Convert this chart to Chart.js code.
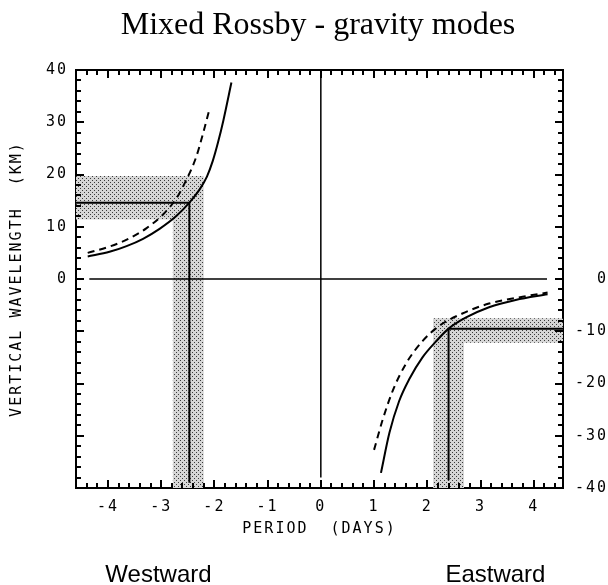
<!DOCTYPE html>
<html lang="en">
<head>
  <meta charset="UTF-8">
  <script src="https://cdn.jsdelivr.net/npm/chart.js"></script>
  <title>Mixed Rossby - gravity modes</title>
  <style>
    body{margin:0; background:#fff;}
    #wrap{width:608px; height:585px;}
  </style>
</head>
<body>
  <div id="wrap">
    <canvas id="myChart" width="608" height="585"></canvas>
  </div>
  <script>
    // period (days) / vertical wavelength (km)
    const westSolidPeriod = [-4.38, -3.97, -3.65, -3.34, -3.03, -2.71, -2.47, -2.28, -2.14, -2.03, -1.93, -1.83, -1.68];
    const westSolidLambda = [4.3, 5.2, 6.3, 7.7, 9.6, 12.1, 14.6, 17.1, 19.6, 22.6, 26.2, 30.4, 37.6];
    const westDashPeriod = [-4.38, -3.97, -3.59, -3.28, -2.96, -2.71, -2.53, -2.34, -2.22, -2.10];
    const westDashLambda = [5.0, 6.2, 7.8, 9.7, 12.4, 15.5, 18.9, 23.4, 27.6, 32.2];

    const eastSolidPeriod = [1.13, 1.29, 1.47, 1.66, 1.91, 2.16, 2.40, 2.72, 3.16, 3.66, 4.26];
    const eastSolidLambda = [-37.1, -29.4, -23.4, -19.2, -15.0, -12.0, -9.5, -7.4, -5.4, -4.0, -2.9];
    const eastDashPeriod = [1.00, 1.16, 1.35, 1.60, 1.91, 2.22, 2.66, 3.16, 3.79, 4.26];
    const eastDashLambda = [-32.7, -27.0, -21.4, -16.2, -11.9, -9.0, -6.6, -4.7, -3.4, -2.6];

    // observed period and wavelength, with their uncertainty bands
    const westObs = [-2.47, 14.6];
    const westPeriodBand = [-2.78, -2.2];
    const westLambdaBand = [11.4, 19.7];
    const eastObs = [2.40, -9.5];
    const eastPeriodBand = [2.11, 2.69];
    const eastLambdaBand = [-12.2, -7.5];

    // zero lines
    const zeroLinePeriod = [-4.35, 4.25];
    const zeroLineLambda = [39, -38];

    // axes
    const periodRange = [-4.6, 4.55];
    const lambdaRange = [-40, 40];
    const directionLabels = ['Westward', 'Eastward'];
    const directionPeriods = [-3.05, 3.28];

    function pts(xs, ys){ return xs.map((v, i) => ({x: v, y: ys[i]})); }

    // stipple fill for the bands
    function dots(){
      const c = document.createElement('canvas');
      c.width = 4; c.height = 4;
      const g = c.getContext('2d');
      g.fillStyle = '#d6d6d6'; g.fillRect(0, 0, 4, 4);
      g.fillStyle = '#3a3a3a';
      g.fillRect(0, 0, 1, 1); g.fillRect(2, 2, 1, 1);
      return g.createPattern(c, 'repeat');
    }
    const stipple = dots();

    function band(pBand, lBand, edgeP, edgeL){
      // L shaped: horizontal strip to the frame edge, vertical strip down to the bottom
      const [p1, p2] = pBand, [l1, l2] = lBand;
      if (edgeP < 0) {
        return [{x:edgeP,y:l2},{x:p2,y:l2},{x:p2,y:edgeL},{x:p1,y:edgeL},{x:p1,y:l1},{x:edgeP,y:l1},{x:edgeP,y:l2}];
      }
      return [{x:edgeP,y:l2},{x:p1,y:l2},{x:p1,y:edgeL},{x:p2,y:edgeL},{x:p2,y:l1},{x:edgeP,y:l1},{x:edgeP,y:l2}];
    }

    const line = (data, opts) => Object.assign({
      data: data, showLine: true, pointRadius: 0, borderColor: '#000',
      borderWidth: 2, tension: 0, fill: false
    }, opts);

    const datasets = [
      line(pts(westSolidPeriod, westSolidLambda), {cubicInterpolationMode: 'monotone'}),
      line(pts(westDashPeriod, westDashLambda), {cubicInterpolationMode: 'monotone', borderDash: [7, 5]}),
      line(pts(eastSolidPeriod, eastSolidLambda), {cubicInterpolationMode: 'monotone'}),
      line(pts(eastDashPeriod, eastDashLambda), {cubicInterpolationMode: 'monotone', borderDash: [7, 5]}),
      line([{x: periodRange[0], y: westObs[1]}, {x: westObs[0], y: westObs[1]}, {x: westObs[0], y: -39}], {}),
      line([{x: periodRange[1], y: eastObs[1]}, {x: eastObs[0], y: eastObs[1]}, {x: eastObs[0], y: -38.5}], {}),
      line([{x: zeroLinePeriod[0], y: 0}, {x: zeroLinePeriod[1], y: 0}], {borderWidth: 1.5}),
      line([{x: 0, y: zeroLineLambda[0]}, {x: 0, y: zeroLineLambda[1]}], {borderWidth: 1.5}),
      line(band(westPeriodBand, westLambdaBand, periodRange[0], lambdaRange[0]), {borderWidth: 0, fill: 'shape', backgroundColor: stipple, order: 10}),
      line(band(eastPeriodBand, eastLambdaBand, periodRange[1], lambdaRange[0]), {borderWidth: 0, fill: 'shape', backgroundColor: stipple, order: 10})
    ];

    const mono = 'DejaVu Sans Mono';

    // plotter style wide lettering
    const spacing = {
      id: 'spacing',
      beforeUpdate(chart){ chart.ctx.letterSpacing = '2px'; }
    };

    // inward ticks on all four sides, title and direction labels
    const frame = {
      id: 'frame',
      afterDraw(chart){
        const {ctx, chartArea: a, scales: {x, y}} = chart;
        ctx.save();
        ctx.strokeStyle = '#000';
        ctx.lineWidth = 2;
        ctx.beginPath();
        for (let i = Math.ceil(x.min / 0.2 - 1e-9); i <= Math.floor(x.max / 0.2 + 1e-9); i++) {
          const px = Math.round(x.getPixelForValue(i * 0.2));
          const len = i % 5 === 0 ? 8 : 5;
          ctx.moveTo(px, a.bottom); ctx.lineTo(px, a.bottom - len);
          ctx.moveTo(px, a.top); ctx.lineTo(px, a.top + len);
        }
        for (let j = lambdaRange[0] / 2; j <= lambdaRange[1] / 2; j++) {
          const py = Math.round(y.getPixelForValue(j * 2));
          const len = j % 5 === 0 ? 8 : 5;
          ctx.moveTo(a.left, py); ctx.lineTo(a.left + len, py);
          ctx.moveTo(a.right, py); ctx.lineTo(a.right - len, py);
        }
        ctx.stroke();

        ctx.letterSpacing = '0px';
        ctx.fillStyle = '#000';
        ctx.textAlign = 'center';
        ctx.textBaseline = 'alphabetic';
        ctx.font = '32px "Liberation Serif"';
        ctx.fillText('Mixed Rossby - gravity modes', 318, 34);
        ctx.font = '24px "Liberation Sans"';
        directionLabels.forEach((t, i) => {
          ctx.fillText(t, x.getPixelForValue(directionPeriods[i]), 582);
        });
        ctx.restore();
      }
    };

    const tickFont = {family: mono, size: 15};
    const titleFont = {family: mono, size: 15};
    new Chart(document.getElementById('myChart'), {
      type: 'scatter',
      data: {datasets: datasets},
      plugins: [spacing, frame],
      options: {
        responsive: false,
        animation: false,
        layout: {padding: 0},
        plugins: {legend: {display: false}, tooltip: {enabled: false}, title: {display: false}},
        scales: {
          x: {
            type: 'linear', position: 'bottom', min: periodRange[0], max: periodRange[1],
            grid: {display: false, drawTicks: false},
            border: {display: true, color: '#000', width: 2},
            ticks: {stepSize: 1, includeBounds: false, color: '#000', font: tickFont, padding: 10},
            title: {display: true, text: 'PERIOD  (DAYS)', color: '#000', font: titleFont, padding: {top: 0, bottom: 47}},
            afterFit(s){ s.height = 97; }
          },
          x2: {
            type: 'linear', axis: 'x', position: 'top', min: periodRange[0], max: periodRange[1],
            grid: {display: false, drawTicks: false},
            border: {display: true, color: '#000', width: 2},
            ticks: {display: false},
            afterFit(s){ s.height = 70; }
          },
          y: {
            type: 'linear', position: 'left', min: lambdaRange[0], max: lambdaRange[1],
            grid: {display: false, drawTicks: false},
            border: {display: true, color: '#000', width: 2},
            ticks: {stepSize: 10, includeBounds: false, color: '#000', font: tickFont, padding: 8,
              callback: v => v >= 0 ? v : ''},
            title: {display: true, text: 'VERTICAL WAVELENGTH  (KM)', color: '#000', font: titleFont, padding: {top: 8, bottom: 0}},
            afterFit(s){ s.width = 76; }
          },
          y2: {
            type: 'linear', axis: 'y', position: 'right', min: lambdaRange[0], max: lambdaRange[1],
            grid: {display: false, drawTicks: false},
            border: {display: true, color: '#000', width: 2},
            ticks: {stepSize: 10, includeBounds: false, color: '#000', font: tickFont, padding: 12, crossAlign: 'far',
              callback: v => v <= 0 ? v : ''},
            afterFit(s){ s.width = 45; }
          }
        }
      }
    });
  </script>
</body>
</html>
